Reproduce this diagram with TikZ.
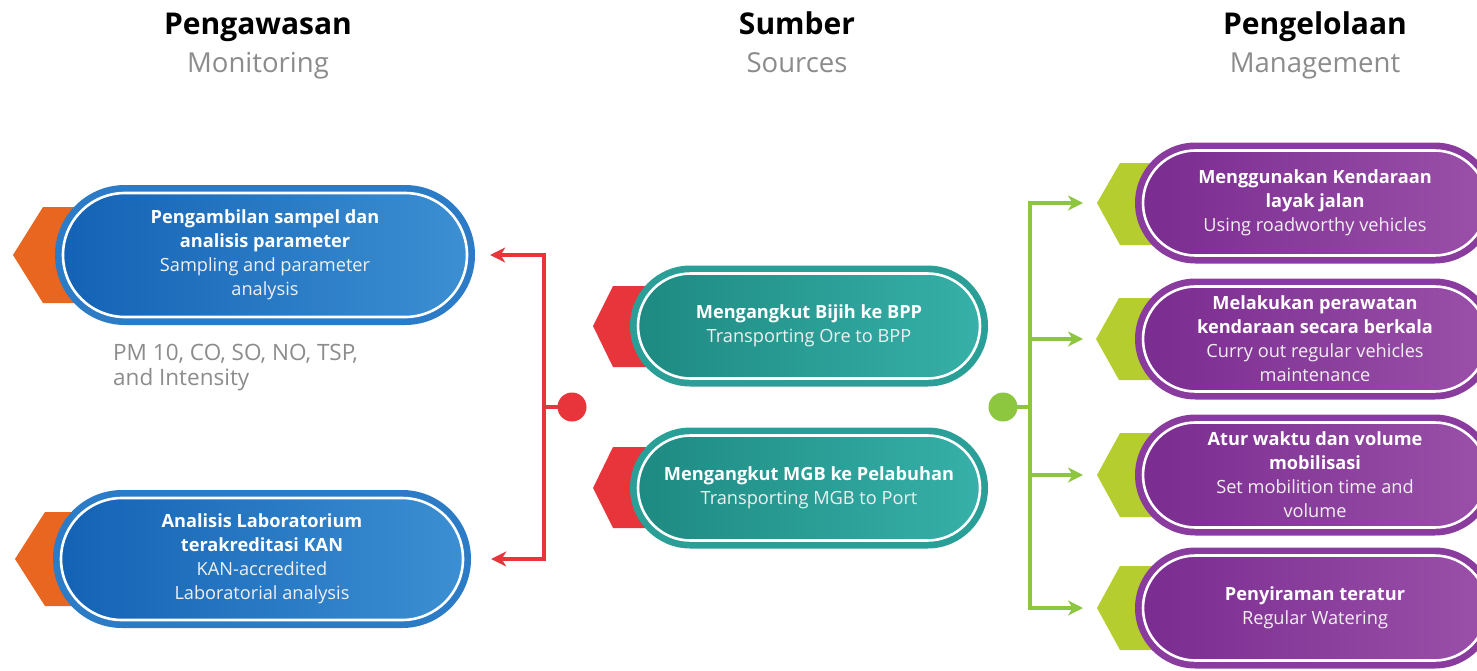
\documentclass[tikz,border=0pt]{standalone}
\usepackage{fontspec}
\setmainfont{Open Sans}
\usetikzlibrary{shapes.misc,arrows.meta}
\definecolor{blueA}{HTML}{1462B5}
\definecolor{blueB}{HTML}{3C8FD2}
\definecolor{blueR}{HTML}{2B7BC6}
\definecolor{tealA}{HTML}{1E8A82}
\definecolor{tealB}{HTML}{36B0A8}
\definecolor{tealR}{HTML}{2A9F97}
\definecolor{purA}{HTML}{7A2C90}
\definecolor{purB}{HTML}{9A50A8}
\definecolor{purR}{HTML}{8A3C9E}
\definecolor{orng}{HTML}{E8661F}
\definecolor{redc}{HTML}{E8343B}
\definecolor{lime}{HTML}{B6CD2F}
\definecolor{grn}{HTML}{8DC63F}
\definecolor{grayt}{HTML}{8C8C8C}
\tikzset{
  outerpill/.style={rounded rectangle, inner sep=0pt, fill=#1},
  innerpill/.style 2 args={rounded rectangle, draw=white, line width=2.6pt,
    left color=#1, right color=#2, text=white, align=center, inner sep=0pt,
    font=\fontsize{18.2}{24}\selectfont},
  hexflap/.style={fill=#1},
  dotnode/.style={circle, fill=#1, minimum size=29, inner sep=0pt},
  linkline/.style={draw=#1, line width=3.2pt},
  linkarrow/.style={draw=#1, line width=3.2pt, -{Stealth[length=15pt,width=15pt,inset=4.5pt]}},
  headbold/.style={anchor=base, font=\fontsize{30}{34}\selectfont\bfseries, text=black},
  headsub/.style={anchor=base, font=\fontsize{27.5}{32}\selectfont, text=grayt},
}
\newcommand\subw[1]{{\color{white!88!gray}#1}}
\begin{document}
\begin{tikzpicture}[x=1pt,y=-1pt]
\clip (0,0) rectangle (1477,670);
\fill[white] (0,0) rectangle (1477,670);

% headers
\node[headbold] (h1) at (258,34) {Pengawasan};
\node[headsub] (s1) at (258,72) {Monitoring};
\node[headbold] (h2) at (797,34) {Sumber};
\node[headsub] (s2) at (797,72) {Sources};
\node[headbold] (h3) at (1315,34) {Pengelolaan};
\node[headsub] (s3) at (1315,72) {Management};

% ---------- monitoring (blue) ----------
\fill[hexflap=orng] (13,255) -- (43,207) -- (140,207) -- (140,303) -- (43,303) -- cycle;
\node[outerpill=blueR, minimum width=420, minimum height=140] (b1o) at (265,255) {};
\node[innerpill={blueA}{blueB}, minimum width=404, minimum height=124] (b1) at (b1o) {%
  \textbf{Pengambilan sampel dan}\\\textbf{analisis parameter}\\\subw{Sampling and parameter}\\\subw{analysis}};

\node[anchor=base west, text=grayt, align=left, font=\fontsize{22.5}{25}\selectfont, inner sep=0pt] (pm) at (113,385)
  {PM 10, CO, SO, NO, TSP,\\and Intensity};

\fill[hexflap=orng] (15,559) -- (45,512) -- (140,512) -- (140,606) -- (45,606) -- cycle;
\node[outerpill=blueR, minimum width=418, minimum height=138] (b2o) at (262,559) {};
\node[innerpill={blueA}{blueB}, minimum width=402, minimum height=122] (b2) at (b2o) {%
  \textbf{Analisis Laboratorium}\\\textbf{terakreditasi KAN}\\\subw{KAN-accredited}\\\subw{Laboratorial analysis}};

% ---------- sources (teal) ----------
\fill[hexflap=redc] (593,326) -- (613,286) -- (700,286) -- (700,367) -- (613,367) -- cycle;
\node[outerpill=tealR, minimum width=358, minimum height=121] (t1o) at (809,326) {};
\node[innerpill={tealA}{tealB}, minimum width=342, minimum height=105] (t1) at (t1o) {%
  \textbf{Mengangkut Bijih ke BPP}\\\subw{Transporting Ore to BPP}};

\fill[hexflap=redc] (593,488) -- (613,447) -- (700,447) -- (700,528) -- (613,528) -- cycle;
\node[outerpill=tealR, minimum width=358, minimum height=121] (t2o) at (809,488) {};
\node[innerpill={tealA}{tealB}, minimum width=342, minimum height=105] (t2) at (t2o) {%
  \textbf{Mengangkut MGB ke Pelabuhan}\\\subw{Transporting MGB to Port}};

% ---------- management (purple) ----------
\fill[hexflap=lime] (1097,203) -- (1120,163) -- (1210,163) -- (1210,245) -- (1120,245) -- cycle;
\coordinate (g1) at (1097,203);
\node[outerpill=purR, minimum width=360, minimum height=121] (p1o) at (1315,203) {};
\node[innerpill={purA}{purB}, minimum width=344, minimum height=105] (p1) at (p1o) {%
  \textbf{Menggunakan Kendaraan}\\\textbf{layak jalan}\\\subw{Using roadworthy vehicles}};

\fill[hexflap=lime] (1096,339) -- (1119,298) -- (1210,298) -- (1210,380) -- (1119,380) -- cycle;
\coordinate (g2) at (1096,339);
\node[outerpill=purR, minimum width=360, minimum height=121] (p2o) at (1315,339) {};
\node[innerpill={purA}{purB}, minimum width=344, minimum height=105] (p2) at (p2o) {%
  \textbf{Melakukan perawatan}\\\textbf{kendaraan secara berkala}\\\subw{Curry out regular vehicles}\\\subw{maintenance}};

\fill[hexflap=lime] (1097,475) -- (1120,433) -- (1210,433) -- (1210,517) -- (1120,517) -- cycle;
\coordinate (g3) at (1097,475);
\node[outerpill=purR, minimum width=360, minimum height=121] (p3o) at (1315,475) {};
\node[innerpill={purA}{purB}, minimum width=344, minimum height=105] (p3) at (p3o) {%
  \textbf{Atur waktu dan volume}\\\textbf{mobilisasi}\\\subw{Set mobilition time and}\\\subw{volume}};

\fill[hexflap=lime] (1097,608) -- (1120,566) -- (1210,566) -- (1210,650) -- (1120,650) -- cycle;
\coordinate (g4) at (1097,608);
\node[outerpill=purR, minimum width=360, minimum height=121] (p4o) at (1315,608) {};
\node[innerpill={purA}{purB}, minimum width=344, minimum height=105] (p4) at (p4o) {%
  \textbf{Penyiraman teratur}\\\subw{Regular Watering}};

% ---------- red connector ----------
\node[dotnode=redc] (rd) at (572,407) {};
\coordinate (rj) at (544,407);
\draw[linkline=redc] (rd.center) -- (rj);
\draw[linkarrow=redc, shorten >=15pt] (rj) |- (b1o.east);
\draw[linkarrow=redc, shorten >=20pt] (rj) |- (b2o.east);

% ---------- green connector ----------
\node[dotnode=grn] (gd) at (1003,407) {};
\coordinate (gj) at (1030,407);
\draw[linkline=grn] (gd.center) -- (gj);
\draw[linkarrow=grn, shorten >=14pt] (gj) |- (g1);
\draw[linkarrow=grn, shorten >=13pt] (gj) |- (g2);
\draw[linkarrow=grn, shorten >=14pt] (gj) |- (g3);
\draw[linkarrow=grn, shorten >=14pt] (gj) |- (g4);
\end{tikzpicture}
\end{document}
